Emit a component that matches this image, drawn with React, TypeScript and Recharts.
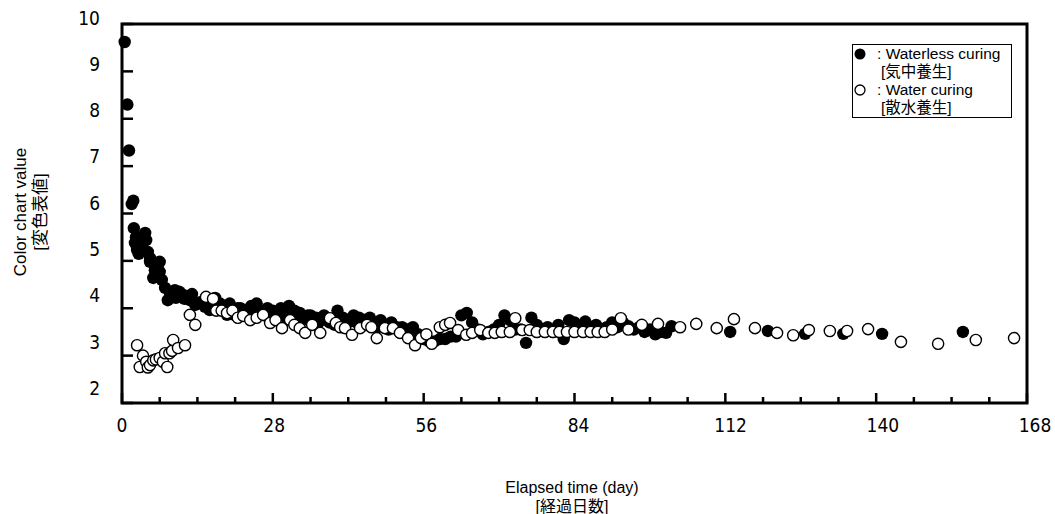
import React from 'react';
import {
  ScatterChart, Scatter, XAxis, YAxis, ReferenceArea, Legend,
} from 'recharts';

// [elapsed day, colour chart value]
const waterlessReadings: [number, number][] = [
  [0.5, 9.62], [1, 8.3], [1.3, 7.33], [1.8, 6.2], [2.1, 6.27], [2.2, 5.69], [2.6, 5.5], [2.4, 5.38],
  [2.8, 5.23], [3.1, 5.15], [3.5, 5.33], [3.9, 5.25], [4.3, 5.59], [4.5, 5.44], [4.8, 5.19], [5.2, 5.06],
  [5.2, 4.98], [5.8, 4.98], [7.0, 4.98], [6.1, 4.8], [6.5, 4.85], [7.0, 4.77], [7.4, 4.6], [5.8, 4.64],
  [8.0, 4.43], [8.9, 4.32], [9.3, 4.25], [9.8, 4.38], [8.5, 4.17], [10, 4.22], [10.6, 4.35], [11.1, 4.3],
  [11.6, 4.2], [12, 4.26], [12.6, 4.17], [13.0, 4.3], [13.6, 4.07], [14.5, 4.13], [15.4, 4.03], [15.9, 4.1],
  [16.3, 3.96], [16.8, 4.05], [17.3, 4.22], [17.8, 4.0], [18.2, 4.1], [18.6, 3.95], [19.0, 4.0], [19.5, 3.86],
  [20, 4.1], [21, 3.85], [22, 4.0], [23, 3.95], [24, 4.05], [25, 4.1], [26, 3.9], [27, 4.0],
  [28, 3.95], [29, 3.85], [30, 3.9], [31, 4.05], [32, 3.95], [33, 3.9], [34, 3.8], [35, 3.85],
  [36, 3.8], [37, 3.75], [38, 3.8], [39, 3.75], [40, 3.95], [41, 3.8], [42, 3.7], [43, 3.85],
  [44, 3.8], [45, 3.75], [46, 3.8], [47, 3.7], [48, 3.75], [49, 3.65], [50, 3.7], [51, 3.6],
  [52, 3.6], [53, 3.55], [54, 3.6], [55, 3.45], [56, 3.35], [57, 3.3], [58, 3.3], [59, 3.35],
  [60, 3.35], [61, 3.4], [62, 3.4], [63, 3.85], [64, 3.9], [65, 3.7], [66, 3.55], [67, 3.45],
  [68, 3.5], [69, 3.55], [70, 3.65], [71, 3.85], [72, 3.75], [73, 3.55], [74, 3.55], [75, 3.27],
  [76, 3.8], [77, 3.65], [78, 3.55], [79, 3.6], [80, 3.5], [81, 3.65], [82, 3.35], [83, 3.75],
  [84, 3.7], [85, 3.6], [86, 3.72], [87, 3.6], [88, 3.65], [89, 3.55], [90, 3.6], [91, 3.7],
  [92, 3.6], [93, 3.7], [94, 3.62], [95, 3.55], [96, 3.6], [97, 3.5], [98, 3.55], [99, 3.45],
  [100, 3.5], [101, 3.48], [102, 3.62],
  [20.5, 3.95], [21.5, 4.0], [22.5, 3.85], [23.5, 3.9], [24.5, 3.95], [25.5, 3.95], [26.5, 3.85],
  [27.5, 3.9], [28.5, 3.85], [29.5, 4.0], [30.5, 3.8], [31.5, 3.9], [32.5, 3.85], [33.5, 3.75],
  [34.5, 3.85], [35.5, 3.7], [36.5, 3.7], [37.5, 3.85], [38.5, 3.7], [39.5, 3.65], [40.5, 3.8],
  [41.5, 3.75], [42.5, 3.75], [43.5, 3.7], [44.5, 3.7], [45.5, 3.75], [46.5, 3.65], [47.5, 3.6],
  [48.5, 3.65], [49.5, 3.55], [50.5, 3.6], [51.5, 3.5], [52.5, 3.5], [53.5, 3.45], [54.5, 3.4],
  [112.9, 3.5], [119.9, 3.52], [126.8, 3.46], [133.9, 3.46], [141.1, 3.46], [156.1, 3.5],
];

const waterReadings: [number, number][] = [
  [2.8, 3.22], [3.3, 2.76], [3.9, 3.0], [4.5, 2.87], [4.8, 2.75], [5.2, 2.8], [5.8, 2.9], [6.3, 2.92],
  [7.0, 2.95], [7.6, 2.87], [8.0, 3.05], [8.4, 2.76], [8.8, 3.05], [9.3, 3.1], [9.5, 3.33], [10.4, 3.16],
  [11.7, 3.22], [12.6, 3.86], [13.6, 3.65], [15.6, 4.24], [16.9, 4.2], [17.5, 3.95], [18.5, 3.95], [19.5, 3.9],
  [20.5, 3.95], [21.5, 3.8], [22.5, 3.84], [23.8, 3.75], [25, 3.8], [26.2, 3.86], [27.5, 3.69], [28.5, 3.75],
  [29.7, 3.58], [31.2, 3.75], [32, 3.65], [33, 3.58], [34, 3.48], [35.3, 3.65], [36.8, 3.48], [38.6, 3.79],
  [39.7, 3.69], [40.5, 3.6], [41.4, 3.58], [42.7, 3.44], [44.2, 3.58], [45.5, 3.65], [46.3, 3.6], [47.3, 3.37],
  [48.8, 3.58], [50.3, 3.58], [51.6, 3.48], [53.1, 3.37], [54.4, 3.22], [55.5, 3.37], [56.5, 3.45], [57.5, 3.25],
  [59, 3.6], [60, 3.65], [60.9, 3.69], [62.4, 3.54], [63.9, 3.44], [65, 3.48], [66.5, 3.54], [68, 3.48],
  [69.2, 3.48], [70.5, 3.5], [72, 3.5], [73, 3.79], [74.3, 3.54], [75.7, 3.54], [77, 3.5], [78.5, 3.5],
  [80, 3.5], [81.2, 3.5], [82.6, 3.5], [84, 3.5], [85.6, 3.5], [87, 3.5], [88.3, 3.5], [89.6, 3.5],
  [91, 3.55], [92.6, 3.79], [94, 3.55], [96.5, 3.65], [99.5, 3.67], [103.6, 3.6], [106.6, 3.67], [110.4, 3.58],
  [113.6, 3.77], [117.5, 3.58], [121.6, 3.48], [124.6, 3.43], [127.5, 3.54], [131.4, 3.52], [134.6, 3.52], [138.5, 3.56],
  [144.6, 3.29], [151.5, 3.25], [158.5, 3.33], [165.6, 3.37],
];

const xTicks = [0, 7, 14, 21, 28, 35, 42, 49, 56, 63, 70, 77, 84, 91, 98, 105, 112, 119, 126, 133, 140, 147, 154, 161, 168];
const yTicks = [2, 3, 4, 5, 6, 7, 8, 9, 10];

const seriesNames = ['Waterless curing', 'Water curing'];
const seriesNamesJa = ['[気中養生]', '[散水養生]'];

const toPoints = (rows: [number, number][]) => rows.map(([day, value]) => ({ day, value }));

const tickFont = "'Liberation Sans Narrow', 'Arial Narrow', 'DejaVu Sans Condensed', sans-serif";
const textFont = "'Liberation Sans', Arial, 'Noto Sans CJK JP', sans-serif";

const XTick = (props: any) => {
  const { x, y, payload } = props;
  const v = payload.value;
  const major = v % 28 === 0;
  return (
    <g>
      <line x1={x} x2={x} y1={y} y2={y - (major ? 10 : 6)} stroke="#000" strokeWidth={2.5} />
      {major && (
        <text x={x + (v / 168) * 8} y={y + 22} dy="0.35em" textAnchor="middle"
          fontFamily={tickFont} fontSize={19} fill="#000">{v}</text>
      )}
    </g>
  );
};

const YTick = (props: any) => {
  const { x, y, payload } = props;
  const v = payload.value;
  return (
    <g>
      <line x1={x} x2={x + 11} y1={y} y2={y} stroke="#000" strokeWidth={2.5} />
      <text x={x - 22} y={y - 6 - (10 - v) * 1.1} dy="0.35em" textAnchor="end"
        fontFamily={tickFont} fontSize={19} fill="#000">{v}</text>
    </g>
  );
};

const Dot = ({ cx, cy, filled }: any) => (
  <circle cx={cx} cy={cy} r={filled ? 6.2 : 5.6}
    fill={filled ? '#000' : '#fff'} stroke="#000" strokeWidth={filled ? 0 : 1.4} />
);

const LegendBox = () => (
  <div style={{
    width: 158, height: 72, border: '1px solid #000', background: '#fff', overflow: 'hidden',
    fontFamily: textFont, fontSize: 15.5, lineHeight: '18px', color: '#000',
  }}>
    {seriesNames.map((name, i) => (
      <div key={name}>
        <div style={{ display: 'flex', alignItems: 'center', whiteSpace: 'nowrap' }}>
          <svg width={12} height={12} style={{ marginLeft: 1, flexShrink: 0 }}>
            <circle cx={6} cy={6} r={i === 0 ? 5.5 : 5} fill={i === 0 ? '#000' : '#fff'}
              stroke="#000" strokeWidth={i === 0 ? 0 : 1.3} />
          </svg>
          <span style={{ marginLeft: 11 }}>:&nbsp;{name}</span>
        </div>
        <div style={{ paddingLeft: 28, whiteSpace: 'nowrap' }}>{seriesNamesJa[i]}</div>
      </div>
    ))}
  </div>
);

export default function App() {
  return (
    <div style={{ position: 'absolute', left: 0, top: 0, width: 1055, height: 514, background: '#fff' }}>
      <ScatterChart width={1055} height={514} margin={{ top: 24, right: 28, left: 62, bottom: 81 }}>
        <XAxis
          type="number"
          dataKey="day"
          domain={[0, 168]}
          ticks={xTicks}
          interval={0}
          axisLine={false}
          tickLine={false}
          tickSize={0}
          tickMargin={0}
          height={30}
          tick={<XTick />}
        />
        <YAxis
          type="number"
          dataKey="value"
          domain={[2, 10]}
          ticks={yTicks}
          interval={0}
          axisLine={false}
          tickLine={false}
          tickSize={0}
          tickMargin={0}
          width={60}
          tick={<YTick />}
        />
        <ReferenceArea x1={0} x2={168} y1={2} y2={10} fill="none" stroke="#000" strokeWidth={3} />
        <Scatter
          name={seriesNames[0]}
          data={toPoints(waterlessReadings)}
          isAnimationActive={false}
          shape={(p: any) => <Dot cx={p.cx} cy={p.cy} filled />}
        />
        <Scatter
          name={seriesNames[1]}
          data={toPoints(waterReadings)}
          isAnimationActive={false}
          shape={(p: any) => <Dot cx={p.cx} cy={p.cy} filled={false} />}
        />
        <Legend
          layout="horizontal"
          verticalAlign="middle"
          align="center"
          content={() => <LegendBox />}
          wrapperStyle={{ left: 852, top: 44, width: 160, height: 74 }}
        />
      </ScatterChart>

      <div style={{
        position: 'absolute', left: 31, top: 212, transform: 'translate(-50%, -50%) rotate(-90deg)',
        whiteSpace: 'nowrap', textAlign: 'center', fontFamily: textFont, fontSize: 17, lineHeight: '20px',
      }}>
        <div>Color chart value</div>
        <div>[変色表値]</div>
      </div>

      <div style={{
        position: 'absolute', left: 572, top: 478, transform: 'translateX(-50%)',
        whiteSpace: 'nowrap', textAlign: 'center', fontFamily: textFont, fontSize: 16, lineHeight: '19px',
      }}>
        <div>Elapsed time (day)</div>
        <div>[経過日数]</div>
      </div>
    </div>
  );
}
